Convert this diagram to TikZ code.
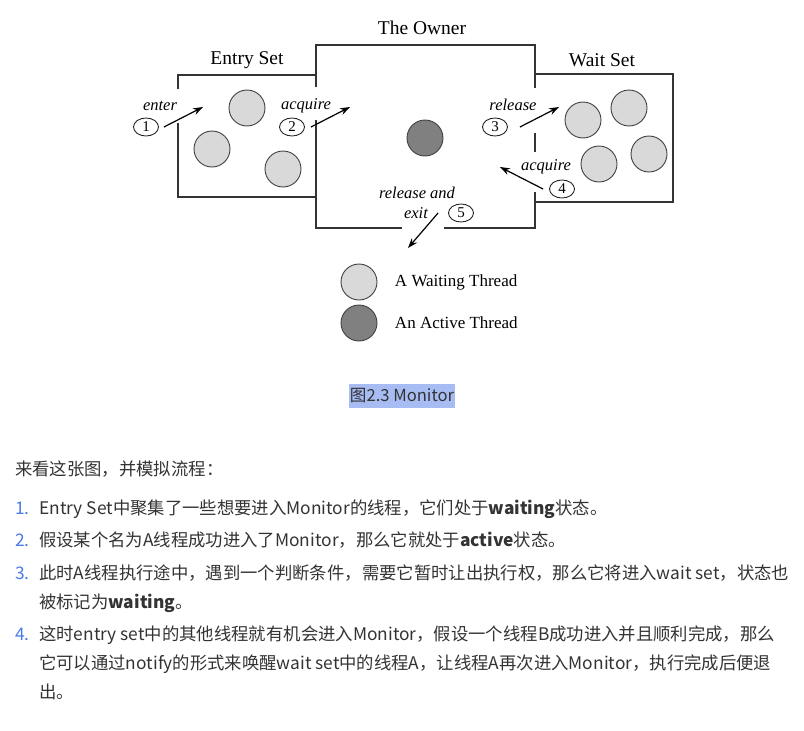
\documentclass[tikz,border=0pt]{standalone}
\usepackage{fontspec}
\setmainfont{Liberation Serif}
\newfontfamily\cjk{Noto Sans CJK SC}
\usetikzlibrary{arrows.meta, shapes.geometric, positioning}

\definecolor{inkgray}{HTML}{333333}
\definecolor{listblue}{HTML}{4A7AE8}
\definecolor{markblue}{HTML}{A8BCF4}

\tikzset{
  wall/.style={line width=1.5pt, draw=black!80},
  waitthr/.style={circle, draw=black!75, line width=0.9pt, fill=black!15,
                  minimum size=36pt, inner sep=0pt},
  activethr/.style={waitthr, fill=black!50},
  stepno/.style={ellipse, draw=black!85, line width=0.9pt, minimum width=25pt,
                 minimum height=18pt, inner sep=0pt, font=\fontsize{15}{15}\selectfont},
  steplbl/.style={font=\fontsize{16.5}{17}\selectfont\itshape},
  settitle/.style={font=\fontsize{19.5}{20}\selectfont},
  legendtxt/.style={font=\fontsize{17}{17}\selectfont},
  flow/.style={line width=1.2pt, -{Stealth[length=10pt,width=7pt]}},
  para/.style={anchor=base west, inner sep=0pt, text=inkgray,
               font=\cjk\fontsize{17.35}{17}\selectfont},
  itemno/.style={para, text=listblue},
}

\begin{document}
\begin{tikzpicture}[x=1pt, y=-1pt]
    \useasboundingbox (0,0) rectangle (804,731);

    % walls of the three rooms
    \draw[wall] (178,89) -- (178,75) -- (316,75);
    \draw[wall] (178,123) -- (178,197) -- (316,197);
    \draw[wall] (316,87) -- (316,45) -- (535,45) -- (535,88);
    \draw[wall] (316,120) -- (316,228) -- (402,228);
    \draw[wall] (444,228) -- (535,228) -- (535,192);
    \draw[wall] (535,133) -- (535,152);
    \draw[wall] (535,74) -- (673,74) -- (673,202) -- (535,202);

    \node[settitle] (owner) at (422,28) {The Owner};
    \node[settitle] (entry) at (247,60) {Entry Set};
    \node[settitle] (wait) at (602,60) {Wait Set};

    % threads
    \node[waitthr] (e1) at (247,108) {};
    \node[waitthr] (e2) at (212,149) {};
    \node[waitthr] (e3) at (283,169) {};
    \node[activethr] (own) at (425,138) {};
    \node[waitthr] (w1) at (583,120) {};
    \node[waitthr] (w2) at (629,108) {};
    \node[waitthr] (w3) at (599,164) {};
    \node[waitthr] (w4) at (649,154) {};

    % numbered steps
    \node[stepno] (n1) at (146,127) {1};
    \node[stepno] (n2) at (292,127) {2};
    \node[stepno] (n3) at (495,127) {3};
    \node[stepno] (n4) at (562,189) {4};
    \node[stepno] (n5) at (461,213) {5};
    \node[steplbl] (l1) at (160,106) {enter};
    \node[steplbl] (l2) at (306,106) {acquire};
    \node[steplbl] (l3) at (513,105) {release};
    \node[steplbl] (l4) at (546,167) {acquire};
    \node[steplbl] (l5a) at (417,193) {release and};
    \node[steplbl] (l5b) at (416,213) {exit};

    \coordinate (t1) at (203,107);
    \coordinate (t2) at (350,107);
    \coordinate (t3) at (559,107);
    \coordinate (t4) at (500,167);
    \coordinate (t5) at (408,248);
    \draw[flow] ([xshift=5pt]n1.east) -- (t1);
    \draw[flow] ([xshift=6pt]n2.east) -- (t2);
    \draw[flow] ([xshift=12pt]n3.east) -- (t3);
    \draw[flow] ([xshift=-6pt]n4.west) -- (t4);
    \draw[flow] ([xshift=-10pt]n5.west) -- (t5);

    % legend
    \node[waitthr] (lw) at (359,282) {};
    \node[legendtxt, right=14pt of lw] (lwt) {A Waiting Thread};
    \node[activethr] (la) at (359,323) {};
    \node[legendtxt, right=14pt of la] (lat) {An Active Thread};

    \node[fill=markblue, text=inkgray, inner xsep=1pt, inner ysep=4.5pt,
          font=\cjk\fontsize{16.6}{16}\selectfont] (cap) at (402,396) {图2.3 Monitor};

    % text below the figure
    \node[para] (intro) at (15,475) {来看这张图，并模拟流程：};
    \node[itemno] (i1) at (15,514) {1.};
    \node[para] (p1) at (39,514) {Entry Set中聚集了一些想要进入Monitor的线程，它们处于\textbf{waiting}状态。};
    \node[itemno] (i2) at (15,546) {2.};
    \node[para] (p2) at (39,546) {假设某个名为A线程成功进入了Monitor，那么它就处于\textbf{active}状态。};
    \node[itemno] (i3) at (15,579) {3.};
    \node[para] (p3) at (39,579) {此时A线程执行途中，遇到一个判断条件，需要它暂时让出执行权，那么它将进入wait set，状态也};
    \node[para] (p3b) at (39,608) {被标记为\textbf{waiting}。};
    \node[itemno] (i4) at (15,640) {4.};
    \node[para] (p4) at (39,640) {这时entry set中的其他线程就有机会进入Monitor，假设一个线程B成功进入并且顺利完成，那么};
    \node[para] (p4b) at (39,669) {它可以通过notify的形式来唤醒wait set中的线程A，让线程A再次进入Monitor，执行完成后便退};
    \node[para] (p4c) at (39,698) {出。};
\end{tikzpicture}
\end{document}
